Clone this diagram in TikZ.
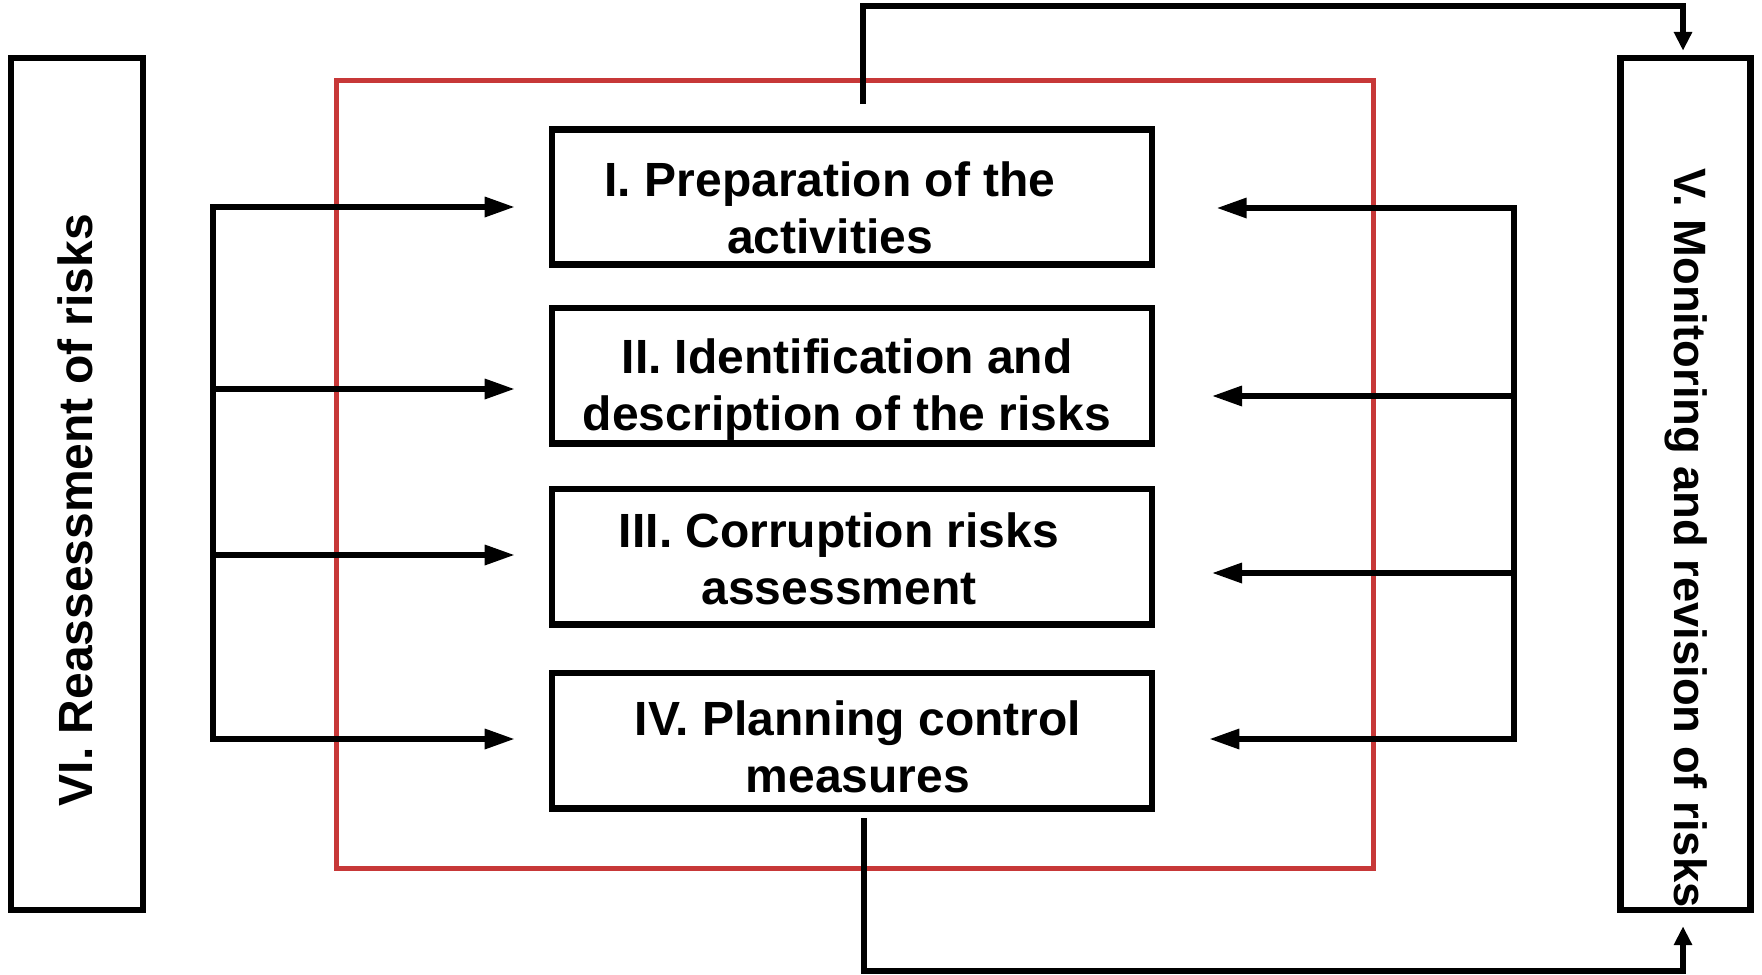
\documentclass[tikz,border=0pt]{standalone}
\usepackage{fontspec}
\setmainfont{Liberation Sans}
\usetikzlibrary{arrows.meta}

\definecolor{framered}{RGB}{199,56,56}

\tikzset{
  stagebox/.style={draw, line width=5pt, minimum width=450pt, minimum height=101.5pt, inner sep=0pt},
  sidebox/.style={draw, line width=5pt, minimum height=639pt, inner sep=0pt},
  stagetext/.style={font=\fontsize{36pt}{42.75pt}\selectfont\bfseries, align=center, inner sep=0pt},
  busarrow/.style={line width=4pt, -{Triangle[length=22.5pt,width=14.5pt]}},
  cyclearrow/.style={line width=4pt, -{Triangle[length=14pt,width=13pt]}},
}

\begin{document}
\begin{tikzpicture}[x=0.75pt,y=0.75pt,yscale=-1]
\useasboundingbox (0,0) rectangle (1762,974);

%Red frame round the four stages
\node[draw=framered, line width=3.75pt, minimum width=777.75pt, minimum height=590.25pt, inner sep=0pt] (core) at (854.5,474.5) {};

%Side boxes
\node[sidebox, minimum width=99pt] (reass) at (77,484) {};
\node[sidebox, minimum width=97.5pt] (monit) at (1685.5,484) {};

%Stage boxes
\node[stagebox] (prep) at (852,197) {};
\node[stagebox] (ident) at (852,375.5) {};
\node[stagebox] (assess) at (852,556.5) {};
\node[stagebox] (plan) at (852,740.5) {};

% Text Node
\node[stagetext] (prep-t) at (830,208) {I. Preparation of the\\activities};
% Text Node
\node[stagetext] (ident-t) at (847,389.5) {II. Identification and\\description of the risks};
% Text Node
\node[stagetext] (assess-t) at (839,558.5) {III. Corruption risks\\assessment};
% Text Node
\node[stagetext] (plan-t) at (858,746.5) {IV. Planning control\\measures};
% Text Node
\node[font=\fontsize{36pt}{40pt}\selectfont\bfseries, rotate=90, inner sep=0pt] (reass-t) at (75,510) {VI. Reassessment of risks};
% Text Node
\node[font=\fontsize{34pt}{40pt}\selectfont\bfseries, rotate=-90, inner sep=0pt] (monit-t) at (1686,538) {V. Monitoring and revision of risks};

%Left bus
\coordinate (lb1) at (213,207);
\coordinate (lb2) at (213,389);
\coordinate (lb3) at (213,555);
\coordinate (lb4) at (213,739);
\draw[busarrow, shorten >=25.5pt] (lb4) -- (lb1) -- (lb1 -| prep.west);
\draw[busarrow, shorten >=25.5pt] (lb2) -- (lb2 -| ident.west);
\draw[busarrow, shorten >=25.5pt] (lb3) -- (lb3 -| assess.west);
\draw[busarrow, shorten >=25.5pt] (lb1) -- (lb4) -- (lb4 -| plan.west);

%Right bus
\coordinate (rb1) at (1514,208);
\coordinate (rb2) at (1514,396);
\coordinate (rb3) at (1514,573);
\coordinate (rb4) at (1514,739);
\draw[busarrow, shorten >=46pt] (rb4) -- (rb1) -- (rb1 -| prep.east);
\draw[busarrow, shorten >=42.5pt] (rb2) -- (rb2 -| ident.east);
\draw[busarrow, shorten >=42.5pt] (rb3) -- (rb3 -| assess.east);
\draw[busarrow, shorten >=40.5pt] (rb1) -- (rb4) -- (rb4 -| plan.east);

%Loop over the top and the bottom
\coordinate (tl) at (863,104);
\coordinate (tr) at (1683,6);
\draw[cyclearrow, shorten >=3pt] (tl) |- (tr) -- (tr |- monit.north);
\coordinate (bl) at (864,818);
\coordinate (br) at (1683,971);
\draw[cyclearrow, shorten >=9.75pt] (bl) |- (br) -- (br |- monit.south);

\end{tikzpicture}
\end{document}
